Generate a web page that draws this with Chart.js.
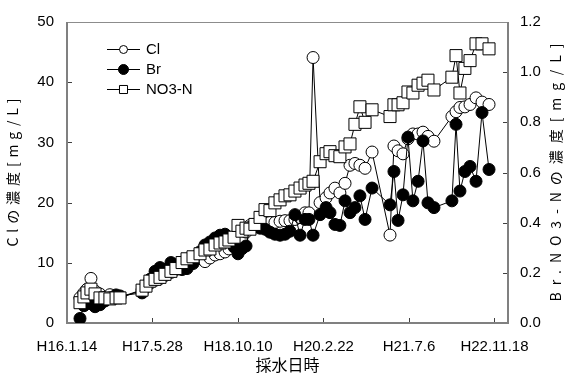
<!DOCTYPE html>
<html>
<head>
<meta charset="utf-8">
<script src="https://cdn.jsdelivr.net/npm/chart.js@4.4.1/dist/chart.umd.min.js"></script>
<style>
  html, body { margin: 0; background: #fff; }
  #wrap { width: 569px; height: 374px; }
</style>
</head>
<body>
<div id="wrap"><canvas id="c"></canvas></div>
<script>
// 採水日 (H16.1.14 からの日数)
const sampleDays = [76, 99, 117, 140, 164, 193, 222, 251, 287, 310,
  439, 462, 485, 515, 544, 573, 608, 637, 673, 702,
  737, 778, 807, 836, 866, 895, 924, 947, 977, 1000,
  1023, 1047, 1070, 1099, 1129, 1158, 1187, 1216, 1246, 1275,
  1304, 1333, 1363, 1392, 1415, 1439, 1480, 1515, 1538, 1567,
  1596, 1626, 1655, 1684, 1713, 1743, 1784, 1889, 1912, 1936,
  1965, 1994, 2023, 2053, 2082, 2111, 2146, 2251, 2275, 2298,
  2327, 2357, 2392, 2427, 2468];

// Cl [mg/L] (左軸)
const clValues = [4.2, 5.0, 5.6, 7.4, 5.3, 4.8, 4.3, 4.7, 4.5, 4.3,
  5.5, 6.1, 6.6, 7.1, 7.4, 7.9, 8.4, 8.9, 9.7, 10.2,
  10.5, 10.7, 10.2, 10.8, 11.3, 11.5, 11.8, 12.3, 12.8, 13.4,
  14.1, 15.1, 16.2, 16.4, 16.7, 16.7, 16.7, 16.7, 16.9, 17.0,
  17.0, 17.2, 17.5, 18.3, 18.3, 44.1, 20.0, 20.8, 21.6, 22.4,
  21.6, 23.2, 26.2, 26.5, 26.2, 25.7, 28.4, 14.6, 29.4, 28.6,
  28.1, 30.6, 31.4, 31.4, 31.7, 31.0, 30.2, 34.3, 35.1, 35.8,
  35.9, 36.3, 37.4, 36.7, 36.3];

// Br [mg/L] (右軸)
const brValues = [0.018, 0.069, 0.081, 0.077, 0.065, 0.073, 0.088, 0.100, 0.112, 0.108,
  0.120, 0.143, 0.174, 0.206, 0.221, 0.213, 0.241, 0.229, 0.213, 0.217,
  0.237, 0.284, 0.311, 0.323, 0.339, 0.350, 0.354, 0.331, 0.303, 0.276,
  0.296, 0.307, 0.381, 0.385, 0.378, 0.374, 0.362, 0.354, 0.350, 0.354,
  0.366, 0.432, 0.350, 0.413, 0.413, 0.350, 0.432, 0.460, 0.440, 0.393,
  0.389, 0.487, 0.440, 0.460, 0.507, 0.413, 0.538, 0.471, 0.604, 0.409,
  0.511, 0.741, 0.487, 0.565, 0.726, 0.479, 0.460, 0.487, 0.792, 0.526,
  0.604, 0.624, 0.565, 0.839, 0.612];

// NO3-N [mg/L] (右軸)
const no3Values = [0.081, 0.104, 0.120, 0.135, 0.116, 0.100, 0.100, 0.096, 0.100, 0.100,
  0.131, 0.147, 0.167, 0.174, 0.182, 0.194, 0.206, 0.217, 0.241, 0.256,
  0.264, 0.276, 0.291, 0.295, 0.311, 0.319, 0.323, 0.331, 0.342, 0.389,
  0.366, 0.378, 0.374, 0.393, 0.421, 0.452, 0.448, 0.479, 0.491, 0.507,
  0.511, 0.526, 0.538, 0.550, 0.557, 0.565, 0.643, 0.675, 0.683, 0.667,
  0.663, 0.702, 0.714, 0.792, 0.862, 0.800, 0.850, 0.823, 0.870, 0.870,
  0.878, 0.921, 0.917, 0.948, 0.956, 0.968, 0.929, 0.980, 1.066, 0.917,
  1.015, 1.046, 1.113, 1.113, 1.093];

const tickDays = [0, 500, 1000, 1500, 2000, 2500];
const tickLabels = ["H16.1.14", "H17.5.28", "H18.10.10", "H20.2.22", "H21.7.6", "H22.11.18"];
const seriesNames = ["Cl", "Br", "NO3-N"];

const LATIN = '"Liberation Sans", Arial, sans-serif';
const JP = '"Noto Sans CJK JP", sans-serif';
Chart.defaults.font.family = LATIN;
Chart.defaults.font.size = 15;
Chart.defaults.color = "#000";

const pts = vals => sampleDays.map((d, i) => ({ x: d, y: vals[i] }));

// 枠と内向きの目盛り
const frame = {
  id: "frame",
  beforeDatasetsDraw(chart) {
    const { ctx, chartArea: a, scales } = chart;
    ctx.save();
    ctx.strokeStyle = "#404040";
    ctx.lineWidth = 1;
    ctx.beginPath();
    scales.y.ticks.forEach(t => {
      const y = Math.round(scales.y.getPixelForValue(t.value)) + 0.5;
      ctx.moveTo(a.left, y); ctx.lineTo(a.left + 5, y);
    });
    scales.y2.ticks.forEach(t => {
      const y = Math.round(scales.y2.getPixelForValue(t.value)) + 0.5;
      ctx.moveTo(a.right - 5, y); ctx.lineTo(a.right, y);
    });
    scales.x.ticks.forEach(t => {
      const x = Math.round(scales.x.getPixelForValue(t.value)) + 0.5;
      ctx.moveTo(x, a.bottom); ctx.lineTo(x, a.bottom - 5);
    });
    ctx.stroke();

    ctx.strokeStyle = "#8c8c8c";
    ctx.lineWidth = 1;
    ctx.beginPath();
    ctx.moveTo(a.left, a.top + 0.5); ctx.lineTo(a.right, a.top + 0.5);
    ctx.stroke();
    ctx.strokeStyle = "#808080";
    ctx.lineWidth = 2;
    ctx.beginPath();
    ctx.moveTo(a.left, a.top); ctx.lineTo(a.left, a.bottom);
    ctx.lineTo(a.right, a.bottom); ctx.lineTo(a.right, a.top);
    ctx.stroke();
    ctx.restore();
  }
};

function drawTitle(ctx, text, x, y, span, size) {
  ctx.save();
  ctx.translate(x, y);
  ctx.rotate(-Math.PI / 2);
  ctx.font = size + "px " + JP;
  ctx.textAlign = "left";
  ctx.textBaseline = "middle";
  const w0 = ctx.measureText(text).width;
  const gap = (span - w0) / (text.length - 1);
  ctx.letterSpacing = gap + "px";
  ctx.fillText(text, -span / 2, 0);
  ctx.restore();
}

// 凡例と軸タイトル
const extras = {
  id: "extras",
  afterDraw(chart) {
    const ctx = chart.ctx;
    ctx.save();
    const sizes = [4, 5, 5.7];
    chart.data.datasets.forEach((ds, i) => {
      const y = 49 + i * 20;
      ctx.strokeStyle = "#000";
      ctx.lineWidth = 1;
      ctx.beginPath();
      ctx.moveTo(107, y + 0.5); ctx.lineTo(140, y + 0.5);
      ctx.stroke();
      ctx.fillStyle = ds.pointBackgroundColor;
      Chart.helpers.drawPoint(ctx, { pointStyle: ds.pointStyle, radius: sizes[i], borderWidth: 1, rotation: 0 }, 123.5, y + 0.5);
      ctx.fillStyle = "#000";
      ctx.font = "15px " + LATIN;
      ctx.textAlign = "left";
      ctx.textBaseline = "middle";
      ctx.fillText(seriesNames[i], 146, y + 1);
    });
    ctx.restore();

    const a = chart.chartArea;
    const cy = (a.top + a.bottom) / 2;
    drawTitle(ctx, "Clの濃度[mg/L]", 13, cy, 148, 14);
    drawTitle(ctx, "Br.NO3-Nの濃度[mg/L]", 556, cy, 258, 14);

    ctx.save();
    ctx.font = "16px " + JP;
    ctx.textAlign = "center";
    ctx.textBaseline = "middle";
    ctx.fillText("採水日時", (a.left + a.right) / 2, 365);
    ctx.restore();
  }
};

new Chart(document.getElementById("c"), {
  type: "line",
  data: {
    datasets: [
      {
        label: seriesNames[0], data: pts(clValues), yAxisID: "y", order: 2,
        borderColor: "#000", borderWidth: 1, pointStyle: "circle", pointRadius: 6,
        pointBackgroundColor: "#fff", pointBorderColor: "#000", pointBorderWidth: 1
      },
      {
        label: seriesNames[1], data: pts(brValues), yAxisID: "y2", order: 1,
        borderColor: "#000", borderWidth: 1, pointStyle: "circle", pointRadius: 6,
        pointBackgroundColor: "#000", pointBorderColor: "#000", pointBorderWidth: 1
      },
      {
        label: seriesNames[2], data: pts(no3Values), yAxisID: "y2", order: 0,
        borderColor: "#000", borderWidth: 1, pointStyle: "rect", pointRadius: 8.5,
        pointBackgroundColor: "#fff", pointBorderColor: "#000", pointBorderWidth: 1
      }
    ]
  },
  options: {
    responsive: true,
    maintainAspectRatio: false,
    animation: false,
    events: [],
    layout: { padding: { top: 15, left: 0, right: 0, bottom: 0 } },
    plugins: { legend: { display: false }, tooltip: { enabled: false } },
    scales: {
      x: {
        type: "linear", min: 0, max: 2579,
        grid: { display: false, drawTicks: false }, border: { display: false },
        afterBuildTicks: s => { s.ticks = tickDays.map(v => ({ value: v })); },
        afterFit: s => { s.height = 51; },
        ticks: { autoSkip: false, maxRotation: 0, padding: 15, callback: (v, i) => tickLabels[i] }
      },
      y: {
        position: "left", min: 0, max: 50,
        grid: { display: false, drawTicks: false }, border: { display: false },
        afterFit: s => { s.width = 67; },
        ticks: { stepSize: 10, padding: 13 }
      },
      y2: {
        position: "right", min: 0, max: 1.2,
        grid: { display: false, drawTicks: false }, border: { display: false },
        afterFit: s => { s.width = 61; },
        ticks: { stepSize: 0.2, padding: 12, callback: v => v.toFixed(1) }
      }
    }
  },
  plugins: [frame, extras]
});
</script>
</body>
</html>
